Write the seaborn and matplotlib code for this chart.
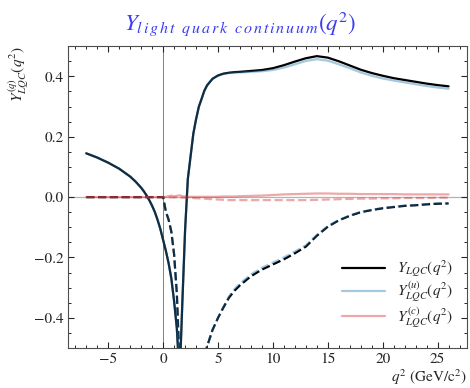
import numpy as np
import pandas as pd
import matplotlib
matplotlib.use("Agg")
import matplotlib.pyplot as plt
from matplotlib.ticker import MultipleLocator
import seaborn as sns

# q^2 grid (GeV^2/c^4)
q2 = [-7, -6, -5, -4, -3, -2.5, -2, -1.75, -1.5, -1.25, -1, -0.75, -0.5, -0.25, 0,
      0.25, 0.5, 0.75, 1.0, 1.25, 1.5, 1.75, 2.0, 2.25, 2.5, 2.75, 3.0, 3.25, 3.5, 3.75,
      4.0, 4.5, 5, 5.5, 6, 6.5, 7, 8, 9, 10, 11, 12, 13, 14, 15, 16, 17, 18, 19, 20,
      21, 22, 23, 24, 25, 26]

# total, real part (solid) and imaginary part (dashed)
lqc_re = [0.145, 0.131, 0.114, 0.094, 0.068, 0.051, 0.031, 0.019, 0.005, -0.011, -0.029,
          -0.050, -0.076, -0.106, -0.142,
          -0.178, -0.219, -0.270, -0.345, -0.435, -0.600, -0.350, -0.110, 0.060, 0.135,
          0.210, 0.258, 0.299, 0.325, 0.352, 0.370, 0.392, 0.403, 0.409, 0.412, 0.414,
          0.415, 0.418, 0.421, 0.427, 0.437, 0.449, 0.460, 0.467, 0.462, 0.450, 0.436,
          0.422, 0.411, 0.402, 0.394, 0.388, 0.382, 0.376, 0.371, 0.367]
lqc_im = [0, 0, 0, 0, 0, 0, 0, 0, 0, 0, 0, 0, 0, 0, 0,
          -0.048, -0.075, -0.115, -0.190, -0.320, -0.560, -0.900, -0.950, -0.900, -0.820,
          -0.740, -0.670, -0.610, -0.565, -0.528, -0.495, -0.440, -0.400, -0.365, -0.333, -0.310,
          -0.292, -0.262, -0.240, -0.223, -0.206, -0.186, -0.164, -0.128, -0.098, -0.077, -0.062,
          -0.050, -0.043, -0.037, -0.033, -0.029, -0.027, -0.024, -0.022, -0.021]

# u-quark part
u_re = [0.145, 0.131, 0.114, 0.094, 0.068, 0.051, 0.031, 0.019, 0.005, -0.011, -0.029,
        -0.050, -0.076, -0.106, -0.142,
        -0.178, -0.219, -0.270, -0.345, -0.435, -0.600, -0.350, -0.110, 0.060, 0.135,
        0.210, 0.258, 0.299, 0.325, 0.352, 0.370, 0.392, 0.402, 0.408, 0.411, 0.413,
        0.413, 0.415, 0.417, 0.421, 0.429, 0.440, 0.451, 0.457, 0.452, 0.440, 0.427,
        0.413, 0.402, 0.393, 0.386, 0.380, 0.374, 0.368, 0.363, 0.359]
u_im = [0, 0, 0, 0, 0, 0, 0, 0, 0, 0, 0, 0, 0, 0, 0,
        -0.048, -0.075, -0.115, -0.190, -0.320, -0.560, -0.900, -0.950, -0.900, -0.820,
        -0.740, -0.670, -0.610, -0.565, -0.528, -0.495, -0.440, -0.400, -0.363, -0.329, -0.305,
        -0.286, -0.256, -0.234, -0.217, -0.200, -0.180, -0.160, -0.125, -0.096, -0.076, -0.061,
        -0.049, -0.042, -0.036, -0.032, -0.028, -0.026, -0.023, -0.021, -0.020]

# c-quark part
c_re = [0, 0, 0, 0, 0, 0, 0, 0, 0, 0, 0, 0, 0, 0, 0,
        0.001, 0.003, 0.005, 0.002, 0.004, 0.006, 0.003, 0.002, 0.001, 0.001,
        0.001, 0.001, 0.001, 0.001, 0.001, 0.001, 0.001, 0.001, 0.002, 0.002, 0.002,
        0.003, 0.004, 0.005, 0.007, 0.009, 0.010, 0.011, 0.012, 0.012, 0.011, 0.011,
        0.010, 0.010, 0.010, 0.010, 0.009, 0.009, 0.009, 0.009, 0.009]
c_im = [0, 0, 0, 0, 0, 0, 0, 0, 0, 0, 0, 0, 0, 0, 0,
        -0.001, -0.001, -0.001, -0.001, -0.001, -0.001, -0.002, -0.002, -0.002, -0.003,
        -0.003, -0.004, -0.004, -0.005, -0.005, -0.006, -0.007, -0.008, -0.009, -0.010, -0.010,
        -0.010, -0.010, -0.010, -0.010, -0.010, -0.010, -0.010, -0.009, -0.008, -0.007, -0.006,
        -0.005, -0.005, -0.004, -0.004, -0.003, -0.003, -0.003, -0.002, -0.002]

sns.set_style("ticks")
plt.rcParams["font.family"] = ["STIXGeneral", "DejaVu Serif"]
plt.rcParams["mathtext.fontset"] = "stix"

fig = plt.figure(figsize=(4.7, 3.88), dpi=100)
ax = fig.add_axes([0.145, 0.103, 0.848, 0.778])

ax.axhline(0, color="0.7", lw=0.9, zorder=0)
ax.axvline(0, color="0.5", lw=0.7, zorder=0)

series = [
    (lqc_re, lqc_im, "black", 1.0, r"$Y_{LQC}(q^2)$"),
    (u_re, u_im, "tab:blue", 0.4, r"$Y^{(u)}_{LQC}(q^2)$"),
    (c_re, c_im, "tab:red", 0.4, r"$Y^{(c)}_{LQC}(q^2)$"),
]
for re, im, col, al, lab in series:
    sns.lineplot(x=q2, y=re, color=col, alpha=al, lw=1.6, ax=ax, label=lab)
    sns.lineplot(x=q2, y=im, color=col, alpha=al, lw=1.6, ls="--", ax=ax)

ax.set_ylim(-0.5, 0.5)
ax.xaxis.set_major_locator(MultipleLocator(5))
ax.xaxis.set_minor_locator(MultipleLocator(1))
ax.yaxis.set_major_locator(MultipleLocator(0.2))
ax.yaxis.set_minor_locator(MultipleLocator(0.05))
ax.tick_params(which="both", direction="in", top=True, right=True, labelsize=11)
ax.tick_params(which="major", length=4.5, width=0.8)
ax.tick_params(which="minor", length=2.5, width=0.7)
for s in ax.spines.values():
    s.set_color("0.3")

ax.set_xlabel(r"$q^2$ (GeV/c$^2$)", fontsize=11, loc="right", labelpad=1)
ax.set_ylabel(r"$Y^{(q)}_{LQC}(q^2)$", fontsize=11, loc="top", labelpad=2)

leg = ax.legend(loc="lower right", frameon=False, fontsize=11, handlelength=2.8,
                labelspacing=0.05, bbox_to_anchor=(1.0, 0.015))

title = (r"$Y_{l\,i\,g\,h\,t\ \ q\,u\,a\,r\,k\ \ c\,o\,n\,t\,i\,n\,u\,u\,m}(q^2)$")
fig.text(0.51, 0.94, title, color="#3b3bf5", fontsize=16.5, ha="center", va="center")

fig.savefig("out.png", dpi=100)
